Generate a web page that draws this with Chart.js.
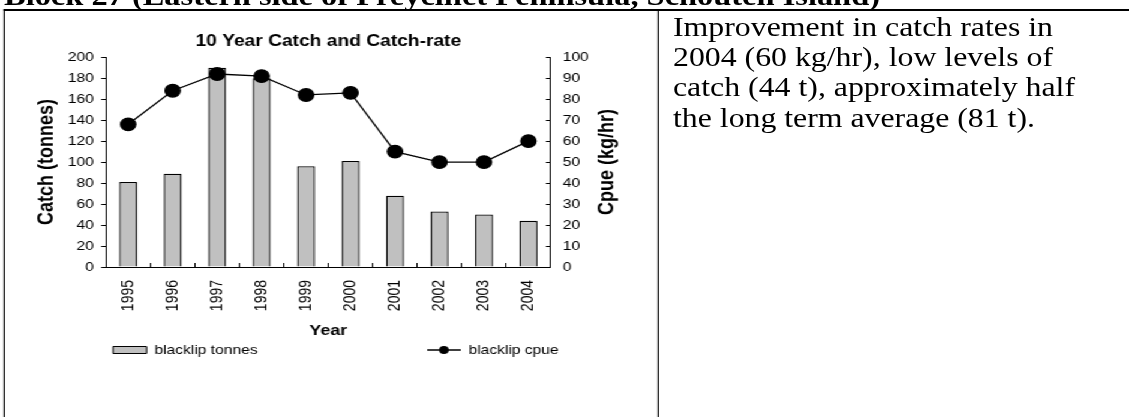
<!DOCTYPE html>
<html>
<head>
<meta charset="utf-8">
<title>10 Year Catch and Catch-rate</title>
<script src="https://cdn.jsdelivr.net/npm/chart.js@4.4.1/dist/chart.umd.min.js"></script>
<style>
  html, body { margin: 0; padding: 0; background: #fff; overflow: hidden; width: 1129px; height: 417px; }
  /* the reference page is stretched sideways, so the chart is drawn narrow and widened */
  #page { position: absolute; left: 0; top: 0; width: 941px; height: 417px; transform: scaleX(1.2); transform-origin: 0 0; }
  .rule { position: absolute; background: #000; }
  #chart { position: absolute; left: 4px; top: 11px; }
  #words { position: absolute; left: 0; top: 0; width: 1129px; height: 417px; overflow: hidden; }
  #words text { font-family: "Liberation Serif", "Times New Roman", serif; fill: #000; }
</style>
</head>
<body>
<div id="page">
  <div class="rule" style="left:2.5px; top:9px; width:940px; height:2px;"></div>
  <div class="rule" style="left:2.5px; top:9px; width:1.7px; height:408px;"></div>
  <div class="rule" style="left:547.5px; top:9px; width:1.7px; height:408px;"></div>
  <canvas id="chart" width="560" height="406"></canvas>
</div>
<!-- side text: baseline and width of each line fixed, so it sits where the original has it -->
<svg id="words" width="1129" height="417" xmlns="http://www.w3.org/2000/svg">
  <text x="4" y="5" font-size="27" font-weight="bold" textLength="876" lengthAdjust="spacingAndGlyphs">Block 27 (Eastern side of Freycinet Peninsula, Schouten Island)</text>
  <text x="673" y="36" font-size="26.5" textLength="380" lengthAdjust="spacingAndGlyphs">Improvement in catch rates in</text>
  <text x="673" y="66.2" font-size="26.5" textLength="380" lengthAdjust="spacingAndGlyphs">2004 (60 kg/hr), low levels of</text>
  <text x="673" y="96.4" font-size="26.5" textLength="402" lengthAdjust="spacingAndGlyphs">catch (44 t), approximately half</text>
  <text x="673" y="126.6" font-size="26.5" textLength="362" lengthAdjust="spacingAndGlyphs">the long term average (81 t).</text>
</svg>
<script>
var years = ['1995', '1996', '1997', '1998', '1999', '2000', '2001', '2002', '2003', '2004'];
var catchTonnes = [81, 89, 190, 180, 96, 101, 68, 53, 50, 44];
var catchRate = [68, 84, 92, 91, 82, 83, 55, 50, 50, 60];
var catchTicks = [0, 20, 40, 60, 80, 100, 120, 140, 160, 180, 200];
var rateTicks = [0, 10, 20, 30, 40, 50, 60, 70, 80, 90, 100];
var seriesNames = ['blacklip tonnes', 'blacklip cpue'];
var chartTitle = '10 Year Catch and Catch-rate';
var catchTitle = 'Catch (tonnes)';
var rateTitle = 'Cpue (kg/hr)';
var yearTitle = 'Year';

Chart.defaults.font.family = '"Liberation Sans", Arial, sans-serif';
Chart.defaults.color = '#000';

// legend icon for the cpue series: a short line with a dot
var lineIcon = document.createElement('canvas');
lineIcon.width = 28;
lineIcon.height = 10;
var ic = lineIcon.getContext('2d');
ic.strokeStyle = '#000';
ic.fillStyle = '#000';
ic.lineWidth = 1.5;
ic.beginPath(); ic.moveTo(0, 5); ic.lineTo(28, 5); ic.stroke();
ic.beginPath(); ic.arc(14, 5, 4, 0, Math.PI * 2); ic.fill();

// right axis title reads bottom to top, like the left one
var rightTitle = {
  id: 'rightTitle',
  afterDraw: function (chart) {
    var ctx = chart.ctx, a = chart.chartArea;
    ctx.save();
    ctx.translate(a.right + 47, (a.top + a.bottom) / 2);
    ctx.rotate(-Math.PI / 2);
    ctx.font = 'bold 18px "Liberation Sans", Arial, sans-serif';
    ctx.fillStyle = '#000';
    ctx.textAlign = 'center';
    ctx.textBaseline = 'middle';
    ctx.fillText(rateTitle, 0, 0);
    ctx.restore();
  }
};

function fixedTicks(list) {
  return function (scale) {
    scale.ticks = list.map(function (v) { return { value: v }; });
  };
}

new Chart(document.getElementById('chart'), {
  type: 'bar',
  data: {
    labels: years,
    datasets: [{
      label: seriesNames[0],
      data: catchTonnes,
      backgroundColor: '#c0c0c0',
      borderColor: '#000',
      borderWidth: 1.3,
      barPercentage: 0.405,
      categoryPercentage: 1,
      yAxisID: 'y',
      order: 1
    }, {
      type: 'line',
      label: seriesNames[1],
      data: catchRate,
      borderColor: '#000',
      borderWidth: 1.3,
      pointRadius: 6.3,
      pointBackgroundColor: '#000',
      pointBorderColor: '#000',
      tension: 0,
      yAxisID: 'y1',
      order: 0
    }]
  },
  options: {
    responsive: false,
    animation: false,
    layout: { padding: { top: 1, left: 4, right: 12.3, bottom: 50.5 } },
    plugins: {
      tooltip: { enabled: false },
      title: {
        display: true,
        fullSize: false,
        text: chartTitle,
        color: '#000',
        font: { size: 16, weight: 'bold' },
        padding: { top: 20, bottom: 6 }
      },
      legend: {
        position: 'bottom',
        labels: {
          usePointStyle: true,
          pointStyleWidth: 28,
          boxHeight: 7,
          padding: 4,
          color: '#000',
          font: { size: 13 },
          generateLabels: function (chart) {
            var items = Chart.defaults.plugins.legend.labels.generateLabels(chart);
            items.sort(function (a, b) { return a.datasetIndex - b.datasetIndex; });
            // trailing spaces push the second entry to the right, as in the original
            items[0].text = seriesNames[0] + ' '.repeat(38);
            items[0].pointStyle = 'rect';
            items[0].fillStyle = '#c0c0c0';
            items[0].strokeStyle = '#000';
            items[0].lineWidth = 1;
            items[1].pointStyle = lineIcon;
            return items;
          }
        }
      }
    },
    scales: {
      x: {
        offset: true,
        grid: { drawOnChartArea: false, tickLength: -4, color: '#000', offset: true },
        border: { color: '#000', width: 1 },
        ticks: { color: '#000', font: { size: 14 }, minRotation: 90, maxRotation: 90, autoSkip: false, padding: 17 },
        title: { display: true, text: yearTitle, color: '#000', font: { size: 15, weight: 'bold' }, padding: { top: 0, bottom: 0 } },
        afterFit: function (s) { s.height = 72.5; }
      },
      y: {
        position: 'left',
        min: 0,
        max: 200,
        afterBuildTicks: fixedTicks(catchTicks),
        grid: { drawOnChartArea: false, tickLength: 4, color: '#000' },
        border: { color: '#000', width: 1 },
        ticks: { color: '#000', font: { size: 13 }, padding: 6 },
        title: { display: true, text: catchTitle, color: '#000', font: { size: 18, weight: 'bold' }, padding: { top: 20.1, bottom: 0 } },
        afterFit: function (s) { s.width = 80.3; }
      },
      y1: {
        position: 'right',
        min: 0,
        max: 100,
        afterBuildTicks: fixedTicks(rateTicks),
        grid: { drawOnChartArea: false, tickLength: -4, color: '#000' },
        border: { color: '#000', width: 1 },
        ticks: { color: '#000', font: { size: 13 }, padding: 14 },
        afterFit: function (s) { s.width = 92.8; }
      }
    }
  },
  plugins: [rightTitle]
});
</script>
</body>
</html>
